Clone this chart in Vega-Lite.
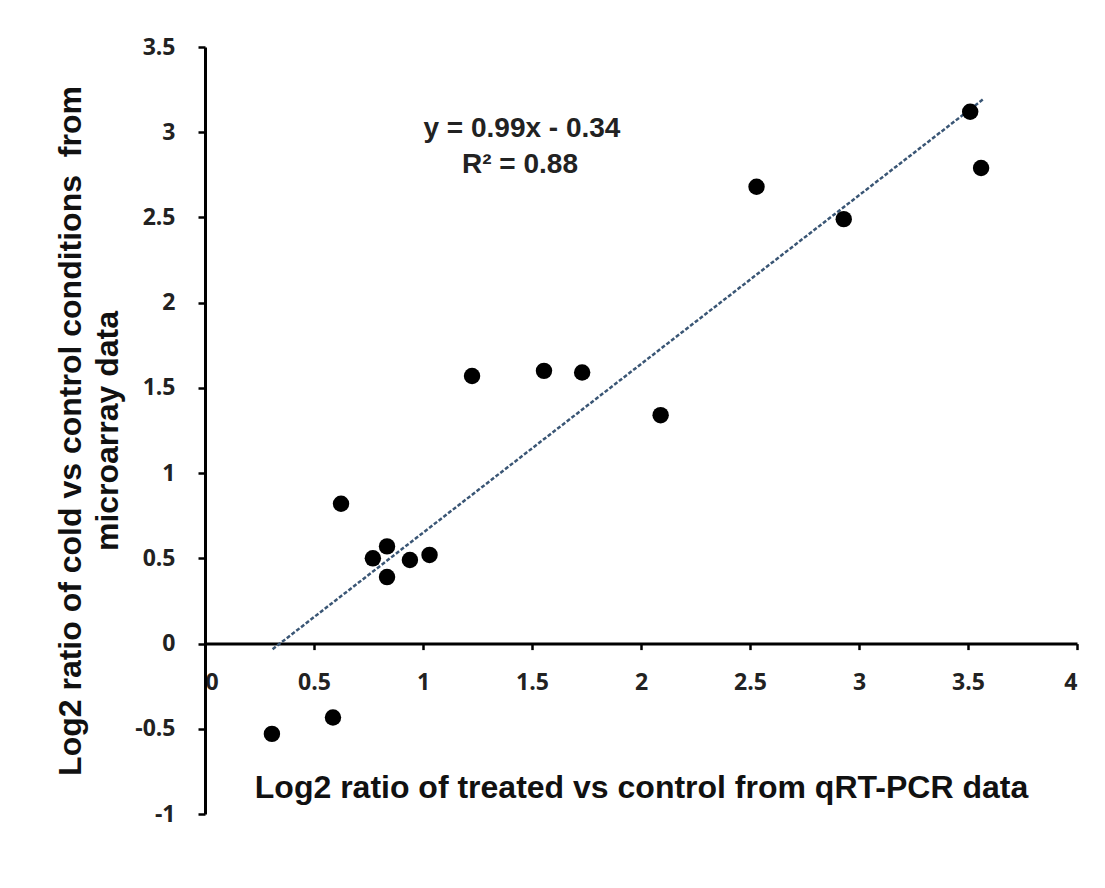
{
  "$schema": "https://vega.github.io/schema/vega-lite/v6.json",
  "width": 872,
  "height": 767,
  "autosize": "none",
  "padding": {"left": 205, "top": 47, "right": 28, "bottom": 74},
  "background": "white",
  "config": {"view": {"stroke": null}},
  "datasets": {
    "points": [
      {"qpcr": 0.307, "array": -0.53},
      {"qpcr": 0.587, "array": -0.434},
      {"qpcr": 0.624, "array": 0.82},
      {"qpcr": 0.77, "array": 0.5},
      {"qpcr": 0.835, "array": 0.57},
      {"qpcr": 0.835, "array": 0.39},
      {"qpcr": 0.94, "array": 0.49},
      {"qpcr": 1.03, "array": 0.52},
      {"qpcr": 1.225, "array": 1.57},
      {"qpcr": 1.555, "array": 1.6},
      {"qpcr": 1.73, "array": 1.59},
      {"qpcr": 2.09, "array": 1.34},
      {"qpcr": 2.53, "array": 2.68},
      {"qpcr": 2.93, "array": 2.49},
      {"qpcr": 3.51, "array": 3.12},
      {"qpcr": 3.56, "array": 2.79}
    ],
    "trend": [
      {"qpcr": 0.31, "array": -0.033},
      {"qpcr": 3.57, "array": 3.194}
    ],
    "notes": [
      {"qpcr": 1.454, "array": 3.016, "label": "y = 0.99x - 0.34"},
      {"qpcr": 1.445, "array": 2.805, "label": "R² = 0.88"}
    ]
  },
  "encoding": {
    "x": {
      "field": "qpcr",
      "type": "quantitative",
      "scale": {"domain": [0, 4], "nice": false, "zero": false},
      "axis": {
        "orient": "bottom",
        "offset": -170.4,
        "values": [0, 0.5, 1, 1.5, 2, 2.5, 3, 3.5, 4],
        "labelExpr": "toString(datum.value)",
        "grid": false,
        "domainColor": "black",
        "domainWidth": 3,
        "tickColor": "black",
        "tickWidth": 2.5,
        "tickSize": 6,
        "labelFont": "Open Sans",
        "labelFontWeight": "bold",
        "labelFontSize": 23,
        "labelColor": "#222",
        "labelPadding": 22,
        "title": "Log2 ratio of treated vs control from qRT-PCR data",
        "titleFont": "Liberation Sans",
        "titleFontWeight": "bold",
        "titleFontSize": 32,
        "titleColor": "#111",
        "titlePadding": 78
      }
    },
    "y": {
      "field": "array",
      "type": "quantitative",
      "scale": {"domain": [-1, 3.5], "nice": false, "zero": false},
      "axis": {
        "values": [-1, -0.5, 0, 0.5, 1, 1.5, 2, 2.5, 3, 3.5],
        "labelExpr": "toString(datum.value)",
        "grid": false,
        "domainColor": "black",
        "domainWidth": 3,
        "tickColor": "black",
        "tickWidth": 2.5,
        "tickSize": 7,
        "labelFont": "Open Sans",
        "labelFontWeight": "bold",
        "labelFontSize": 23,
        "labelColor": "#222",
        "labelPadding": 23,
        "title": ["Log2 ratio of cold vs control conditions \u00a0from", "microarray data"],
        "titleFont": "Liberation Sans",
        "titleFontWeight": "bold",
        "titleFontSize": 32,
        "titleColor": "#111",
        "titleLineHeight": 37,
        "titlePadding": 10
      }
    }
  },
  "layer": [
    {
      "data": {"name": "trend"},
      "mark": {"type": "line", "stroke": "#3a5675", "strokeWidth": 2.5, "strokeDash": [4, 2]}
    },
    {
      "data": {"name": "points"},
      "mark": {"type": "circle", "size": 270, "color": "black", "opacity": 1}
    },
    {
      "data": {"name": "notes"},
      "mark": {"type": "text", "font": "Liberation Sans", "fontWeight": "bold", "fontSize": 28, "color": "#222", "align": "center", "baseline": "middle"},
      "encoding": {"text": {"field": "label"}}
    }
  ]
}
